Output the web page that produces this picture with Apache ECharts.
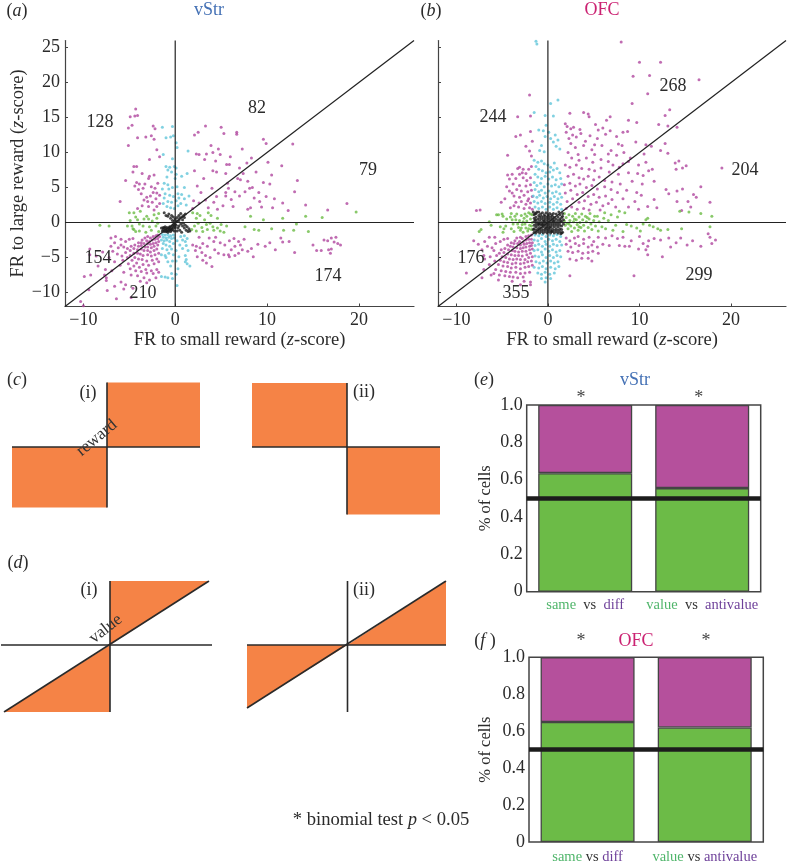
<!DOCTYPE html>
<html>
<head>
<meta charset="utf-8">
<script src="https://cdn.jsdelivr.net/npm/echarts@6/dist/echarts.min.js"></script>
<style>html,body{margin:0;background:#fff}#main{width:787px;height:865px}</style>
</head>
<body>
<div id="main"></div>
<script>
// values (z-scores)
const aMagenta = [[-4.3,16.2],[-4.4,15.2],[-4.1,15.3],[-4.9,15.1],[-4.7,13.9],[-5.1,13.5],[-2.4,13.8],[-2.2,13.4],[-4.1,12.1],[-3.2,12.2],[-2.6,12.4],[-2.3,11.9],[-5.1,11],[-2,10.4],[-1.7,9.4],[-2.8,9],[-4.5,8],[-4.2,8],[-4.6,7.2],[-3.6,7],[-2.3,6.8],[-2.8,6.6],[-5.4,6],[-4.2,5.7],[-3.9,5.5],[-2.9,6.3],[-4,4.7],[-2.6,5.1],[-3.5,4.9],[-2.4,4.3],[-2,4.2],[-1.7,3.9],[-6,3],[-3.4,3.2],[-3,3],[-2.9,2.3],[-2,2.3],[-2.3,1.8],[-1.7,2.7],[-4.1,2],[-3.1,3.6],[-2.7,3.8],[-2.1,3.4],[-3.6,2.4],[-2.5,2.9],[-1.9,5.6],[-2.2,4.9],[-3.3,5.5],[-4.4,5.2],[-3.7,4.1],
[3.3,13.8],[2.5,12.9],[2.1,12.5],[5,13.6],[5.3,12.7],[6.7,12.9],[6.7,12.6],[3.9,11],[9.6,11.9],[9.9,11.3],[12.8,11.2],[4.7,10.5],[7.3,10.5],[2.3,9.8],[2.6,9.7],[3.4,9.8],[4.1,10],[4.9,9.7],[3.2,9],[4.4,8.8],[5.6,8.3],[5.9,8.3],[7.8,8.5],[8.3,9.2],[10.1,8.6],[11.6,8.1],[4.1,7.4],[4.5,7.2],[7,7.8],[7.4,7],[8.8,7.2],[10.5,6.8],[6.8,6.3],[7.1,6.1],[5.7,5.6],[9.6,5.7],[10.3,5.5],[13.3,6],[4,4.9],[5.8,4.9],[8.1,4.9],[8.4,5],[6.5,4.4],[7.6,4.4],[5.5,4.3],[4.5,3.7],[13,4.4],[9.9,3.7],[11.7,2.8],[14.2,2.5],[18.7,2.7],[16.6,1.8],[9.2,3],[7.9,1.9],[8.2,2.1],[6.3,2.3],[2.4,5.2],[2.8,4.3],[3.3,3.2],[2.6,2.8],[3.6,2.1],[4.2,2.9],[5.2,2.4],[6.1,3.3],[7,3.8],[8.6,3.5],[9.4,2.2],[10.8,3.4],[3.1,6.3],[2.1,7.4],[5.5,7],[6,9.4],[2,3.1],[1.9,2],[4.6,1.9],[5.5,3.8],[7.9,5.9],[9.1,4.3],[10.6,2.1],[12.3,1.7],
[-3,-2],[-3.3,-2.2],[-2.7,-2.2],[-2.4,-2],[-2.1,-1.9],[-1.9,-1.8],[-3.6,-2.5],[-3.1,-2.6],[-2.8,-2.7],[-2.5,-2.5],[-2.2,-2.4],[-1.9,-2.3],[-1.7,-2],[-4,-2.9],[-3.7,-2.9],[-3.4,-3],[-3,-3],[-2.7,-3.1],[-2.4,-3],[-2.1,-2.9],[-1.8,-2.7],[-4.4,-3.2],[-4,-3.4],[-3.7,-3.3],[-3.3,-3.5],[-3,-3.5],[-2.6,-3.6],[-2.3,-3.4],[-1.9,-3.2],[-4.8,-3.4],[-4.5,-3.7],[-4.1,-3.9],[-3.7,-3.8],[-3.4,-4],[-3,-4],[-2.7,-4.2],[-2.3,-4],[-2,-3.8],[-5.2,-3.7],[-4.9,-4],[-4.5,-4.4],[-4.1,-4.4],[-3.8,-4.5],[-3.5,-4.7],[-3,-4.6],[-2.6,-4.8],[-2.2,-4.6],[-1.8,-4.4],[-5.6,-3.5],[-5.9,-3.2],[-6.2,-3.6],[-5.4,-4.3],[-4.9,-4.7],[-4.4,-5],[-4,-5.2],[-3.6,-5.3],[-3.1,-5.5],[-2.5,-5.4],[-2,-5.2],[-6.6,-2.9],[-7,-3.4],[-6.8,-4.1],[-6.3,-4.5],[-5.8,-4.8],[-5.2,-5],[-4.7,-5.4],[-4.2,-5.8],[-3.5,-6],[-2.9,-6.1],[-2.3,-5.9],[-1.8,-5.6],[-7,-2.2],[-6.5,-2],[-5.9,-2.4],[-5.4,-2.7],[-5,-2.4],[-4.6,-2.3],[-5.7,-5.4],[-5.1,-5.9],[-4.5,-6.2],[-3.9,-6.4],[-3.2,-6.7],[-2.6,-6.9],[-2,-6.7],[-4.9,-6.6],[-4.3,-6.9],[-3.7,-7],[-3.1,-7.2],[-2.4,-7.3],[-1.8,-7.1],[-6,-6.1],[-6.6,-5.6],[-7.2,-5],[-7.9,-4.2],[-8.6,-4.8],[-9.3,-3.8],[-9.3,-4.6],[-8.4,-6.2],[-7.6,-6.7],[-6.9,-6.9],[-5.6,-7.1],[-4.8,-7.5],[-4.1,-7.6],[-3.4,-7.9],[-2.8,-8.2],[-2.1,-7.9],[-3.8,-8.4],[-3.1,-8.6],[-5.9,-8.5],[-5.4,-8.9],[-7.5,-7.9],[-7.5,-8.3],[-7.7,-7.5],[-9.9,-7.7],[-9.2,-7.5],[-9.4,-9.6],[-7.4,-9.7],[-6.4,-10.9],[-5.6,-9.5],[-4.8,-10.7],[-10.3,-11.3],[-10,-11.9],[-6.6,-9.1],[-4.6,-9.4],
[2.3,-3.4],[2.7,-3.6],[3,-3],[3.5,-3.4],[2.2,-4],[2.9,-4.3],[3.3,-4.7],[3.8,-5],[2.4,-4.9],[1.9,-3.2],[4.3,-3.9],[4.7,-4.4],[4.2,-2.7],[4.9,-2.9],[5.4,-3.2],[5.8,-4.6],[5.3,-4.6],[6.1,-3.9],[6.5,-4.7],[6.9,-4.4],[6.5,-3.4],[7.1,-3.2],[7.3,-3.9],[5.9,-2.6],[6.4,-2.3],[6.9,-2.7],[7.5,-2.4],[3.4,-5.8],[4,-6.3],[3,-5.4],[5.9,-4.9],[8.5,-4.9],[9,-3.1],[9.8,-3.4],[10.3,-2.9],[10.9,-3.9],[11.5,-2.2],[11.7,-2.8],[12.4,-2.7],[13,-4.3],[15,-3.2],[15.4,-4],[15.9,-4],[16.7,-3.9],[17,-3.8],[16.9,-4.4],[16.6,-2.6],[17,-2.2],[17.5,-2.1],[17.7,-3],[18,-3.2],[17.3,-2.8],[16.2,-2.5],[7.9,-4.1],[8.3,-3.7],[4.4,-2.1],[3.7,-2.2],[2.6,-2.1]];
const aCyan = [[-1.4,13.6],[-0.3,13.7],[-1,12.1],[-0.5,12.2],[-0.2,12.4],[0.1,11.4],[0.2,10.7],[1.4,10.2],[-1.3,9.7],[-0.3,9.1],[-1,8],[-0.6,7.9],[-0.1,8],[0.1,7.8],[-0.8,7.5],[-0.4,7.2],[0.1,6.9],[1.3,7],[0.7,6.6],[-0.9,6.5],[0,6.3],[-1.2,5.6],[-0.8,5.4],[-0.3,5],[-0.7,4.8],[0.2,5.1],[1,5],[-1.4,4.8],[-1.1,4.1],[-0.6,3.9],[-0.2,3.7],[0.3,4.1],[0.7,4],[1.5,3.8],[-1.2,3.5],[-0.8,3],[-0.4,2.9],[0.1,3.1],[0.4,3.5],[1,3.4],[-0.9,2.3],[-0.5,2.1],[0.6,2.7],[1.2,2.5],[-1.3,2.7],[-0.1,2],[0.3,2.4],
[-1.4,-1.7],[-1.1,-1.8],[-0.8,-1.7],[-0.5,-1.9],[-0.2,-1.8],[-1.3,-2.1],[-1,-2.2],[-0.7,-2.1],[-0.4,-2.3],[-0.1,-2.2],[0.6,-2],[1,-1.9],[1.3,-2.3],[-1.5,-2.5],[-1.2,-2.6],[-0.9,-2.5],[-0.6,-2.7],[0.2,-2.6],[0.8,-2.5],[1.1,-2.7],[-1.3,-3],[-1,-3.2],[-0.6,-3.4],[-0.2,-3],[0.5,-3.2],[1.2,-3.3],[-1.4,-3.7],[-0.9,-3.9],[-0.4,-3.8],[0.1,-4],[0.8,-3.7],[1.4,-4],[-1.5,-4.6],[-1.1,-4.7],[-0.7,-4.4],[-0.2,-4.6],[-1,-5],[0.4,-4.9],[1.1,-4.7],[1.2,-5.3],[1.3,-5.9],[1.6,-6.2],[1.1,-5.6],[-0.8,-5.6],[-0.3,-5.5],[0.1,-5.5],[-0.5,-6.2],[0.3,-6.6],[-1.5,-7.7],[-1.1,-7.8],[-0.8,-7.9],[-0.3,-8],[0.1,-7.4],[-0.4,-7.3],[0.2,-9]];
const aGreen = [[-8.2,-0.4],[-7.2,-0.5],[-5.2,-0.5],[-4.7,-0.5],[-4.9,0.3],[-4.5,1.4],[-4.3,0.8],[-4.1,0.4],[-3.9,-0.2],[-4.5,-1],[-4.3,-1.3],[-3.9,-1.2],[-3.5,-0.5],[-3.4,0.5],[-3.1,0.9],[-2.9,0.5],[-2.8,-0.6],[-2.6,-1.1],[-2.5,0.2],[-2.3,1.1],[-2.1,-0.5],[-2,0.6],[-1.8,-1.3],[-1.8,1.3],[-3.2,-1.4],[-1.9,-0.1],[-3.8,1.6],[-5,1.4],[-4.6,-0.9],
[1.9,1.4],[2.4,1.3],[2.3,0.6],[2.5,-0.1],[2.7,1],[2.1,-0.5],[1.8,-1],[2.3,-1.2],[2.9,-0.7],[3.2,0.4],[3.4,-0.3],[3,-1.3],[3.5,-1],[3.9,1],[3.8,-0.1],[4.1,-0.6],[4.2,-1.1],[4.6,-0.8],[4.9,-1.2],[5,-0.3],[5.3,-1.4],[5.6,-0.5],[4.6,0.6],[3.6,1.4],[7.6,-0.6],[8.2,0.9],[8.6,-1],[9.1,-1.1],[9.6,0.4],[10.5,-0.9],[11.7,0.6],[11.8,-1.1],[12.9,-1.1],[13.2,-0.2],[14.5,-1.3],[14.2,0.9],[16,0.7],[19.7,1.5]];
const aBlack = [[-1.5,-0.8],[-1.4,-1.2],[-1.3,-0.7],[-1.3,-1],[-1.2,-1.3],[-1.2,-0.8],[-1.1,-1.1],[-1.1,-0.6],[-1,-1.3],[-1,-0.9],[-0.9,-1.2],[-0.9,-0.7],[-0.8,-1],[-0.8,-1.4],[-0.7,-0.8],[-0.7,-1.2],[-0.6,-1],[-0.6,-0.6],[-0.5,-1.3],[-0.5,-0.9],[-0.4,-1.1],[-0.4,-0.7],[-0.3,-0.5],[-0.3,-1],[-0.2,-0.3],[-0.2,-0.8],[-0.1,-0.5],[0,-0.2],[0,-0.7],[0.1,-0.4],[-0.1,0.2],[-0.3,0.3],[-0.5,0.6],[-0.8,0.9],[-1,1],[-1.2,1.4],[-0.7,1.2],[-0.4,1],[-0.2,0.8],[0,0.5],[0.2,0.2],[0.2,0.7],[0.4,1],[0.4,0.3],[0.5,0.6],[0.6,1.3],[0.7,0.8],[0.8,0.4],[0.9,1],[1,0.7],[1.1,1.2],[0.6,-0.2],[0.8,-0.5],[0.9,-0.1],[1,-0.8],[1.1,-0.4],[1.2,-1.1],[1.3,-0.6],[1.4,-1.3],[1.5,-0.9],[1.6,-1.2],[0.3,-0.8],[0.5,-1.1],[0.7,-1.4],[0.2,-1.2],[-0.1,-1.2],[0.4,-0.5]];
const bMagenta = [[8,25.8],[10,22.9],[12.3,22.9],[9.3,20.9],[11.1,21],[16.5,20.4],[10.9,18.4],[-2,18.2],[9.2,17],[13.3,16.1],[12.8,15.3],[-3.3,15.1],[-1.9,15.2],[2.4,15.6],[3.9,15.7],[4.4,15.5],[4.5,15.1],[6.8,15.1],[6.4,14.6],[8.8,14.6],[9.7,14.3],[12.1,14],[13.1,13.8],[14.1,13.6],[1.9,14.1],[2.1,13.7],[2.5,13.4],[2.8,13.6],[5.5,13.2],[-3,12.5],[-3.5,12.3],[-1.9,13],[-1.7,11.6],[-4.4,9.6],[-2.7,7.6],
[2,12.9],[2.7,12.5],[3.1,12.2],[3.6,12.7],[4.6,12.4],[5.4,12],[6.3,12.6],[7.5,12.3],[8.2,12.9],[8.7,13],[9.6,11.5],[10.7,11.1],[11.3,10.9],[12.3,10.3],[13.1,9.9],[12.8,11.3],[2.5,11.3],[3,10.7],[3.9,11],[4.8,10.4],[5.9,11],[6.9,10.3],[7.5,9.6],[8.3,10],[9,9.2],[10.5,9.8],[2.2,10],[2.6,9.2],[3.3,9.7],[4.2,9.2],[5.1,9.7],[5.8,9],[6.6,8.7],[8.2,8.4],[9.9,8.2],[10.7,8.6],[11.4,7.6],[13.9,8.5],[14.3,8.8],[14.7,7.8],[15.1,8.1],[19,7.8],[14,7.6],[1.9,8.2],[2.4,7.9],[3.1,8.2],[3.7,7.7],[4.5,7.6],[5.1,7.4],[5.8,7.8],[6.7,7.2],[7.7,6.9],[8.8,7.1],[9.8,7],[10.4,6.7],[11,7.4],[2.2,6.6],[2.8,6.9],[3.4,6.4],[3.9,6.2],[4.4,6.6],[5,6.1],[5.6,6.5],[6.2,6],[7,5.8],[7.9,5.5],[9.2,5.9],[10.3,5.5],[11.6,5.9],[1.8,5.4],[2.4,5.6],[3,5.2],[3.5,5.5],[4.2,5],[4.8,5.3],[5.4,4.8],[6.2,5.1],[6.9,4.7],[7.6,4.3],[8.6,4.6],[9.7,4.3],[10.2,3.9],[11.6,3.3],[12.9,4.7],[13.2,4.1],[14.1,4.5],[14.7,4.8],[16.7,5.1],[15.9,4],[1.9,4.2],[2.5,4.6],[3.2,4],[3.8,4.3],[4.4,3.7],[5,4],[5.6,3.6],[6.3,3.8],[7,3.3],[8.2,3.4],[9.5,3],[10.9,2.3],[11.9,2.1],[14.1,3],[15.3,3],[16.2,3.6],[17.7,2.9],[15.6,2.2],[14.6,1.7],[2.1,3],[2.7,3.4],[3.4,2.9],[4,3.1],[4.7,2.6],[5.3,2.9],[6,2.4],[6.6,2.7],[7.4,2.2],[8.8,2.2],[9.9,1.9],[2,2],[2.6,2.2],[3.2,1.9],[3.9,2],[4.5,1.8],[5.7,1.8],[2.3,12],[3.5,13.3],[5.2,14],[6,13.5],[6.8,13.1],[7.7,11.2],[8.1,11],[4.1,11.6],[5.1,11.1],[6.6,9.8],[3.4,8.9],[4.9,8.6],[7.1,8.2],[7.8,7.9],[8.8,8.7],
[-2.4,10.9],[-2,10.2],[-1.8,9.5],[-3.3,7.7],[-2.8,7.1],[-3.1,6.9],[-2.4,7],[-2.1,7.6],[-1.8,8],[-4.4,6.8],[-3.9,6.9],[-4.2,6.2],[-3.5,6.3],[-2.7,6.4],[-2.3,6],[-1.9,6.4],[-4.5,5.1],[-3.8,5.5],[-3.1,5.3],[-2.4,5.2],[-1.9,5.4],[-4.2,4.5],[-3.4,4.7],[-2.9,4.5],[-2.2,4.4],[-1.8,4.6],[-3.7,3.8],[-3.1,3.6],[-2.6,3.9],[-2.1,3.4],[-1.7,3.7],[-4.7,3.4],[-3.5,2.9],[-2.9,3],[-2.4,2.6],[-1.9,2.8],[-3.2,2.2],[-2.6,2],[-2,2.1],[-1.7,1.9],[-4.1,2.1],[-5.1,2.9],[-7.8,1.7],[-7.4,1.8],[-3.7,2.4],[-2.2,3.1],[-3.9,4.2],[-3.1,7.9],
[-3,-2.1],[-3.4,-2.2],[-2.8,-2.3],[-2.4,-2],[-2.1,-1.9],[-1.8,-1.8],[-3.6,-2.6],[-3.1,-2.7],[-2.7,-2.8],[-2.4,-2.5],[-2.1,-2.4],[-1.8,-2.4],[-4,-2.9],[-3.7,-3],[-3.3,-3],[-3,-3.2],[-2.6,-3.1],[-2.3,-3],[-2,-2.9],[-1.7,-2.9],[-4.4,-3.2],[-4.1,-3.4],[-3.8,-3.5],[-3.4,-3.6],[-3,-3.7],[-2.7,-3.6],[-2.4,-3.5],[-2,-3.4],[-1.8,-3.3],[-4.7,-3.7],[-4.3,-3.9],[-3.9,-4],[-3.6,-4.1],[-3.2,-4.2],[-2.8,-4.1],[-2.4,-4.1],[-2,-3.9],[-1.7,-3.8],[-5.1,-3.9],[-4.8,-4.3],[-4.4,-4.5],[-4,-4.6],[-3.6,-4.7],[-3.2,-4.7],[-2.8,-4.8],[-2.3,-4.6],[-1.9,-4.4],[-5.3,-4.4],[-5,-4.9],[-4.6,-5],[-4.2,-5.2],[-3.8,-5.3],[-3.4,-5.2],[-3,-5.3],[-2.5,-5.3],[-2.1,-5],[-1.7,-4.9],[-5.6,-4.7],[-5.2,-5.4],[-4.8,-5.6],[-4.4,-5.7],[-3.9,-5.9],[-3.5,-5.8],[-3,-5.9],[-2.6,-5.8],[-2.2,-5.6],[-1.8,-5.5],[-5.7,-3],[-5.2,-2.7],[-4.8,-2.4],[-4.4,-2.3],[-6.1,-3.6],[-5.9,-4],[-6.3,-4.9],[-5.8,-5.5],[-5.4,-6],[-4.9,-6.2],[-4.4,-6.3],[-4,-6.5],[-3.5,-6.4],[-3,-6.6],[-2.5,-6.4],[-2.1,-6.3],[-1.7,-6.1],[-5.1,-6.9],[-4.6,-7],[-4.1,-7.1],[-3.5,-7.1],[-3,-7.3],[-2.5,-7.2],[-2,-7.1],[-5.9,-7.3],[-5.3,-7.5],[-4.7,-7.6],[-4.2,-7.7],[-3.8,-7.8],[-3.3,-7.9],[-2.7,-7.8],[-3.9,-8.4],[-2.6,-8.4],[-1.9,-8.5],[-3,-8.9],[-5.7,-6.7],[-6.4,-6],[-6.9,-5.2],[-7,-4.7],[-7.2,-3.9],[-6.6,-3.4],[-6.9,-2.7],[-6.4,-2.1],[-5.8,-2.1],[-7.6,-3.1],[-8.1,-2.6],[-8.9,-7.2],[-7.2,-7.9],[-7,-6.7],[-6.2,-7.5],[-5.4,-8.2],[-1.9,-8.9],
[2,-2.2],[2.4,-2.6],[2.9,-2.2],[3.3,-2],[3.9,-2.4],[4.5,-2.1],[5,-2.7],[5.5,-2.1],[6.3,-2.2],[7,-1.9],[7.6,-2.3],[8.4,-3.4],[2,-3.1],[2.5,-3.5],[3,-3],[3.4,-3.3],[3.9,-3],[4.4,-3.5],[4.8,-3.2],[5.4,-3.5],[6,-3.1],[6.7,-3.3],[7.8,-3.3],[8.9,-3.4],[2.2,-4.1],[2.7,-4.3],[3.3,-4.1],[3.8,-4.4],[4.4,-4.3],[4.9,-4.1],[5.5,-4.4],[2.4,-5.2],[3.1,-5.4],[3.7,-5.1],[4.4,-5.1],[4.8,-5.5],[2.4,-7.6],[9.4,-7.6],[10.4,-3],[10.9,-3.4],[10.7,-3.9],[10.9,-4.6],[11.6,-2.3],[12.5,-4.9],[13.4,-3.5],[14.5,-2.2],[15.2,-3.2],[15.8,-2.6],[16.7,-3.4],[17.5,-1.6],[17.7,-2.1],[18.3,-2.5],[17.9,-3],[10,-2],[11,-2.6],[12.3,-2.5],[13.2,-2.2],[14,-2.9],[8.2,-2.1],[9.1,-2.6],[9.9,-3.8]];
const bCyan = [[-1.2,25.5],[-1.3,25.9],[1.1,17.5],[0.3,17],[-1.5,15.7],[-0.3,15.3],[0.6,15.2],[-1,13.2],[-0.5,13.1],[-0.2,13.9],[0.1,12.9],[-0.3,12.3],[0.3,12],[0.8,12.5],[1.1,11.8],[0.6,11.5],[-0.7,11],[-0.9,10.3],[-0.4,10.1],[0.9,10.9],[1.3,10.5],[-1.5,8.9],[-1.1,8.6],[-0.7,8.8],[-0.4,8.4],[0,8.2],[0.3,7.9],[0.7,8.5],[-1.3,8],[-1,7.6],[-0.6,7.4],[-0.2,7.1],[0.2,7.2],[0.6,7.5],[1,7.7],[1.3,7.1],[-1.4,6.9],[-1.1,6.5],[-0.7,6.3],[-0.3,6.6],[0.1,6.2],[0.5,6.5],[0.9,6.1],[1.4,6.3],[-1.5,5.7],[-1.2,5.3],[-0.8,5.6],[-0.4,5.1],[0,5.5],[0.4,5.2],[0.8,5.4],[1.2,5.1],[1.5,5.5],[-1.4,4.7],[-1,4.4],[-0.7,4.6],[-0.3,4.2],[0.1,4.5],[0.5,4.2],[0.9,4.4],[1.3,4.1],[-1.6,3.8],[-1.2,3.6],[-0.9,3.9],[-0.5,3.5],[-0.1,3.7],[0.3,3.4],[0.7,3.7],[1.1,3.4],[1.5,3.6],[-1.5,3],[-1.1,2.8],[-0.7,3],[-0.3,2.7],[0.2,2.9],[0.6,2.6],[1,2.9],[1.4,2.6],[-1.4,2.2],[-1,2],[-0.6,2.2],[-0.2,1.9],[0.2,2.2],[0.6,1.9],[1,2.1],[1.5,1.9],
[-1.4,-1.8],[-1,-1.9],[-0.6,-1.7],[-0.2,-2],[0.2,-1.8],[0.6,-1.9],[1,-1.7],[1.4,-2],[-1.5,-2.5],[-1.1,-2.6],[-0.7,-2.3],[-0.3,-2.7],[0.1,-2.4],[0.5,-2.6],[0.9,-2.4],[1.3,-2.7],[-1.4,-3.3],[-1,-3.1],[-0.6,-3.4],[-0.2,-3.1],[0.2,-3.4],[0.6,-3.1],[1,-3.3],[1.5,-3.2],[-1.5,-4],[-1.1,-3.9],[-0.7,-4.2],[-0.3,-3.8],[0.1,-4.1],[0.5,-3.9],[0.9,-4.2],[1.3,-4],[-1.4,-4.8],[-1,-4.9],[-0.6,-4.6],[-0.2,-5],[0.2,-4.7],[0.6,-5],[1,-4.7],[1.4,-4.9],[-1.3,-5.6],[-0.9,-5.8],[-0.5,-5.5],[-0.1,-5.8],[0.3,-5.5],[0.7,-5.8],[1.1,-5.6],[-1.5,-6.4],[-1,-6.5],[-0.6,-6.3],[-0.2,-6.6],[0.3,-6.4],[0.8,-6.6],[1.2,-6.3],[-1.1,-7.2],[-0.7,-7.4],[-0.3,-7.1],[0.2,-7.4],[0.7,-7.2],[-0.7,-8],[-0.2,-7.9],[0.3,-8],[-0.3,-8.5]];
const bGreen = [[-7.5,-1.3],[-7.3,-1],[-6.4,0.1],[-6.2,-0.4],[-5.6,1.1],[-5.4,1.1],[-5,1.2],[-4.9,0.9],[-5.2,-0.6],[-4.8,-0.9],[-4.9,-1.4],[-4.6,-0.5],[-4.5,0.5],[-4.1,0.8],[-4,1.3],[-4,-0.9],[-3.8,-0.2],[-3.7,-1.3],[-3.5,0.4],[-3.4,1.2],[-3.2,-0.7],[-3.1,0.3],[-3,-1.1],[-2.9,1],[-2.8,-0.3],[-2.7,-1.4],[-2.6,0.6],[-2.5,1.2],[-2.4,-0.8],[-2.3,0.2],[-2.2,-1.2],[-2.1,1.4],[-2,-0.4],[-1.9,0.5],[-1.8,-1],[-1.7,1.1],[-1.7,0],[-2.3,0.9],[-2.7,0.1],[-3.3,-0.2],[-3.6,0.9],[-2.1,-0.9],[-1.9,1.2],[-2.5,-0.2],[-1.8,-0.5],[-2.9,-0.8],[-3.9,0.4],
[1.8,1.3],[2,0.7],[2.1,-0.1],[2.2,-0.9],[2.3,1.1],[2.4,0.3],[2.5,-0.5],[2.6,-1.3],[2.7,0.9],[2.8,0.1],[2.9,-0.8],[3,1.3],[3.1,0.4],[3.2,-0.3],[3.3,-1.1],[3.4,0.8],[3.5,0],[3.6,-0.7],[3.7,1.2],[3.8,0.4],[3.9,-0.4],[4,-1.2],[4.1,0.9],[4.2,0.1],[4.4,-0.7],[4.5,0.5],[4.6,1.3],[4.7,-0.2],[4.8,-1],[5,0.3],[5.2,-0.5],[5.4,0.9],[5.5,-1.2],[5.6,0.1],[5.9,-0.6],[6.1,0.6],[6.2,1.4],[6.3,-0.9],[6.6,0.3],[6.9,1.1],[7.1,-1.1],[7.4,-0.4],[7.6,0.8],[7.8,1.6],[8.4,1.4],[8.6,-0.3],[8.2,-1.3],[9.1,-0.5],[9.7,-0.8],[10.1,-1.2],[10.7,0.4],[10.9,0.6],[10.4,-0.2],[11.1,-0.4],[11.5,-0.6],[12,-0.9],[12.3,-1.1],[13.1,-1],[14.4,1.6],[15.4,1.5],[16.7,1.3],[17.9,0.9],[17.7,-0.6],[14.6,-0.9],[1.9,-0.4],[2.3,-0.2],[2.9,0.5],[3.4,-0.6],[4.3,0.7],[5.1,0.9],[1.8,0.2]];
const bBlack = [[-1.5,-1.4],[-1.5,-0.9],[-1.5,-0.4],[-1.5,0.1],[-1.5,0.6],[-1.5,1.1],[-1.6,1.5],[-1.3,-1.5],[-1.3,-1.1],[-1.3,-0.6],[-1.3,-0.2],[-1.3,0.3],[-1.3,0.8],[-1.3,1.3],[-1.1,-1.3],[-1.1,-0.9],[-1.1,-0.4],[-1.1,0],[-1.1,0.5],[-1,1],[-1,1.5],[-0.9,-1.5],[-0.9,-1.1],[-0.9,-0.7],[-0.9,-0.2],[-0.9,0.3],[-0.9,0.7],[-0.8,1.2],[-0.7,-1.3],[-0.7,-0.9],[-0.7,-0.4],[-0.7,0],[-0.7,0.5],[-0.7,0.9],[-0.6,1.4],[-0.5,-1.5],[-0.5,-1.1],[-0.5,-0.6],[-0.5,-0.2],[-0.5,0.3],[-0.5,0.7],[-0.4,1.1],[-0.3,-1.3],[-0.3,-0.9],[-0.3,-0.4],[-0.3,0],[-0.3,0.5],[-0.3,0.9],[-0.2,1.4],[-0.1,-1.5],[-0.1,-1.1],[-0.1,-0.6],[-0.1,-0.2],[-0.1,0.3],[-0.1,0.7],[0,1.1],[0.1,-1.3],[0.1,-0.9],[0.1,-0.4],[0.1,0],[0.1,0.5],[0.1,0.9],[0.2,1.3],[0.3,-1.5],[0.3,-1.1],[0.3,-0.6],[0.3,-0.2],[0.3,0.3],[0.3,0.7],[0.4,1.1],[0.5,-1.3],[0.5,-0.9],[0.5,-0.4],[0.5,0],[0.5,0.5],[0.5,0.9],[0.6,1.3],[0.7,-1.5],[0.7,-1.1],[0.7,-0.6],[0.7,-0.2],[0.7,0.3],[0.7,0.7],[0.9,-1.3],[0.9,-0.9],[0.9,-0.4],[0.9,0],[0.9,0.5],[0.9,1.2],[1.1,-1.5],[1.1,-1.1],[1.1,-0.6],[1.1,-0.2],[1.1,0.3],[1.1,0.8],[1.2,1.5],[1.3,-1.3],[1.3,-0.9],[1.3,-0.4],[1.3,0],[1.3,0.5],[1.3,1.1],[1.5,-1.5],[1.5,-1],[1.5,-0.5],[1.5,0.1],[1.5,0.7],[1.6,1.3],[1.6,-1.4],[1.7,-0.2],[1.7,0.4],[1.6,0.9],[-1.4,1.3],[-1.2,1.5],[-1.6,-1],[-0.4,0.2],[0.2,-0.7],[-0.6,-0.3],[0.6,0.2],[1.4,-1.6],[-1,-0.2],[0.4,-1.3],[-0.2,-0.8],[-1.4,0.4],[1.4,0.3]];

const barCats = ['same vs diff', 'value vs antivalue'];
const eCells = [0.635, 0.555];
const eRest = [0.365, 0.445];
const fCells = [0.65, 0.62];
const fRest = [0.35, 0.38];

const aCounts = ['128','82','79','154','210','174'];
const bCounts = ['244','268','204','176','355','299'];

const cOne = {regions: [[[0,0],[93,0],[93,64.5],[0,64.5]], [[-95,0],[0,0],[0,-60.5],[-95,-60.5]]],
  lines: [[[-95,0],[93,0]], [[0,64.5],[0,-60.5]]], range: [-95,93,-60.5,64.5]};
const cTwo = {regions: [[[-95,0],[0,0],[0,64],[-95,64]], [[0,0],[93,0],[93,-67.5],[0,-67.5]]],
  lines: [[[-95,0],[93,0]], [[0,64],[0,-67.5]]], range: [-95,93,-67.5,64]};
const dOne = {regions: [[[0,0],[0,64],[99,64]], [[0,0],[0,-67],[-106,-67]]],
  lines: [[[-109,0],[102,0]], [[0,64],[0,-67]], [[-106,-67],[99,64]]], range: [-109,102,-67,64]};
const dTwo = {regions: [[[0,0],[98.5,64],[98.5,0]], [[-100.5,0],[0,0],[-100.5,-63]]],
  lines: [[[-100.5,0],[98.5,0]], [[0,64],[0,-67]], [[-100.5,-63],[98.5,64]]], range: [-100.5,98.5,-67,64]};

const SERIF = '"Liberation Serif", "Times New Roman", serif';
const INK = '#2b2b2b';
const ORANGE = '#f58346';
const italic = {fontStyle: 'italic', fontFamily: SERIF, fontSize: 18.5, color: INK};

const grids = [
  {left: 65, top: 40.5, width: 349, height: 266},
  {left: 438, top: 40.5, width: 348, height: 266},
  {left: 12, top: 382.5, width: 188, height: 125},
  {left: 252, top: 383, width: 188, height: 131.5},
  {left: 1, top: 581, width: 211, height: 131},
  {left: 247, top: 581, width: 199, height: 131},
  {left: 526.7, top: 405, width: 234, height: 186.7},
  {left: 529, top: 657.3, width: 234.3, height: 186.7}
];
grids.forEach((g, i) => {
  if (i > 5) { g.show = true; g.borderColor = '#444'; g.borderWidth = 1.5; g.backgroundColor = 'transparent'; }
});

const xAxes = [], yAxes = [], series = [];

function scatterAxes(idx, withLabels, xName, yName) {
  xAxes.push({
    gridIndex: idx, type: 'value', min: -12, max: 26,
    name: xName, nameLocation: 'middle', nameGap: 24,
    nameTextStyle: {fontFamily: SERIF, fontSize: 18.5, color: INK, rich: {i: italic}},
    axisLine: {onZero: false, lineStyle: {color: '#444', width: 1.2}},
    axisTick: {inside: true, length: 3, customValues: [-10,0,10,20], lineStyle: {color: '#444'}},
    axisLabel: {customValues: [-10,0,10,20], margin: 5, fontFamily: SERIF, fontSize: 18, color: INK,
      formatter: v => String(v).replace('-', '\u2212')},
    splitLine: {show: false}
  });
  yAxes.push({
    gridIndex: idx, type: 'value', min: -12, max: 26,
    name: yName, nameLocation: 'middle', nameGap: 37, nameRotate: 90,
    nameTextStyle: {fontFamily: SERIF, fontSize: 18.5, color: INK, rich: {i: italic}},
    axisLine: {onZero: false, lineStyle: {color: '#444', width: 1.2}},
    axisTick: {inside: true, length: 3, customValues: [-10,-5,0,5,10,15,20,25], lineStyle: {color: '#444'}},
    axisLabel: {show: withLabels, customValues: [-10,-5,0,5,10,15,20,25], margin: 5, fontFamily: SERIF, fontSize: 18, color: INK,
      formatter: v => String(v).replace('-', '\u2212')},
    splitLine: {show: false}
  });
}

function dots(idx, data, color) {
  series.push({type: 'scatter', xAxisIndex: idx, yAxisIndex: idx, data, symbolSize: 3,
    itemStyle: {color}, silent: true, animation: false, large: false});
}

function refLine(xIdx, yIdx, data, width, color) {
  series.push({type: 'line', xAxisIndex: xIdx, yAxisIndex: yIdx, data, showSymbol: false, silent: true, animation: false,
    lineStyle: {color, width}, z: 6});
}

scatterAxes(0, true, 'FR to small reward ({i|z}-score)', 'FR to large reward ({i|z}-score)');
scatterAxes(1, false, 'FR to small reward ({i|z}-score)', '');
[[aMagenta, aCyan, aGreen, aBlack], [bMagenta, bCyan, bGreen, bBlack]].forEach((set, idx) => {
  dots(idx, set[0], '#b0479f');
  dots(idx, set[1], '#62c5da');
  dots(idx, set[2], '#6cbb45');
  dots(idx, set[3], '#1c1c1c');
  refLine(idx, idx, [[-12,-12],[26,26]], 1.2, '#222');
  refLine(idx, idx, [[-12,0],[26,0]], 1.2, '#222');
  refLine(idx, idx, [[0,-12],[0,26]], 1.2, '#222');
});

// schematic panels
[cOne, cTwo, dOne, dTwo].forEach((p, i) => {
  const idx = i + 2;
  xAxes.push({gridIndex: idx, type: 'value', min: p.range[0], max: p.range[1], show: false});
  yAxes.push({gridIndex: idx, type: 'value', min: p.range[2], max: p.range[3], show: false});
  series.push({
    type: 'custom', xAxisIndex: idx, yAxisIndex: idx, silent: true, animation: false,
    data: p.regions.map(r => r[0]),
    encode: {x: 0, y: 1},
    renderItem: (params, api) => ({
      type: 'polygon',
      shape: {points: p.regions[params.dataIndex].map(c => api.coord(c))},
      style: {fill: ORANGE}
    })
  });
  p.lines.forEach(l => refLine(idx, idx, l, 1.6, '#2a2a2a'));
});

// bar panels
const labelRich = {
  g: {color: '#4fb56a', fontFamily: SERIF, fontSize: 14.5},
  p: {color: '#6d3f99', fontFamily: SERIF, fontSize: 14.5}
};
function barAxes(gridIdx, gap, labelMargin, nameGap) {
  xAxes.push({
    gridIndex: gridIdx, type: 'category', data: barCats,
    axisLine: {show: false}, axisTick: {show: false},
    axisLabel: {interval: 0, margin: labelMargin, fontFamily: SERIF, fontSize: 14.5, color: '#333', rich: labelRich,
      formatter: v => {
        const w = v.split(' vs ');
        return '{g|' + w[0] + '}' + gap + 'vs' + gap + '{p|' + w[1] + '}';
      }}
  });
  yAxes.push({
    gridIndex: gridIdx, type: 'value', min: 0, max: 1, interval: 0.2,
    name: '% of cells', nameLocation: 'middle', nameGap,
    nameTextStyle: {fontFamily: SERIF, fontSize: 16.5, color: INK},
    axisLine: {show: false},
    axisTick: {inside: true, length: 2, lineStyle: {color: '#444'}},
    axisLabel: {margin: 4, fontFamily: SERIF, fontSize: 18, color: INK, formatter: v => v === 0 ? '0' : v.toFixed(1)},
    splitLine: {show: false}
  });
}
function barSeries(axisIdx, low, high) {
  series.push({type: 'bar', xAxisIndex: axisIdx, yAxisIndex: axisIdx, stack: 's' + axisIdx, data: low, barWidth: 94,
    itemStyle: {color: '#6cbb47', borderColor: '#444', borderWidth: 1.3}, silent: true, animation: false,
    markLine: {silent: true, symbol: 'none', animation: false, label: {show: false},
      lineStyle: {color: '#1c1c1c', width: 4.5, type: 'solid'}, data: [{yAxis: 0.5}]}, z: 3});
  series.push({type: 'bar', xAxisIndex: axisIdx, yAxisIndex: axisIdx, stack: 's' + axisIdx, data: high, barWidth: 94,
    itemStyle: {color: '#b5509c', borderColor: '#444', borderWidth: 1.3}, silent: true, animation: false, z: 2});
}
barAxes(6, '\u2002', 6, 33);
barAxes(7, ' ', 8, 35);
barSeries(6, eCells, eRest);
barSeries(7, fCells, fRest);

// loose text
const ital = {i: {fontStyle: 'italic', fontFamily: SERIF, fontSize: 18, fill: INK}};
function txt(x, y, text, size, fill, rotation) {
  return {type: 'text', x, y, rotation: rotation || 0, z: 20, silent: true,
    style: {text, fontFamily: SERIF, fontSize: size, fill: fill || INK, align: 'center', verticalAlign: 'middle', rich: ital}};
}
const aCountAt = [[100,122.7],[257,108],[368,170],[98,258],[143,293],[328,276]];
const bCountAt = [[493,117],[673,86],[745,170],[471,258],[516,293],[699,275]];
const graphic = [];
aCounts.forEach((t, i) => graphic.push(txt(aCountAt[i][0], aCountAt[i][1], t, 18)));
bCounts.forEach((t, i) => graphic.push(txt(bCountAt[i][0], bCountAt[i][1], t, 18)));
[['({i|a})',17,11],['({i|b})',431,11],['({i|c})',17,380],['({i|d})',18,563],['({i|e})',484,380],['({i|f })',485,641]]
  .forEach(t => graphic.push(txt(t[1], t[2], t[0], 18)));
[['(i)',88,393],['(ii)',364,392],['(i)',89,590],['(ii)',364,590]].forEach(t => graphic.push(txt(t[1], t[2], t[0], 18)));
graphic.push(txt(209, 10, 'vStr', 18, '#4471b5'));
graphic.push(txt(602, 10, 'OFC', 18, '#cb2272'));
graphic.push(txt(635, 380, 'vStr', 18, '#4471b5'));
graphic.push(txt(636, 641, 'OFC', 18, '#cb2272'));
graphic.push(txt(96.7, 438, 'reward', 17, '#333', 40 * Math.PI / 180));
graphic.push(txt(105.7, 629, 'value', 17, '#333', 38 * Math.PI / 180));
[[581,398],[698.7,398],[581,641],[706,641]].forEach(p => graphic.push(txt(p[0], p[1], '*', 18, '#444')));
graphic.push(txt(381, 820, '* binomial test {i|p} < 0.05', 18.6));

const chart = echarts.init(document.getElementById('main'), null, {renderer: 'canvas'});
chart.setOption({animation: false, backgroundColor: '#fff', grid: grids, xAxis: xAxes, yAxis: yAxes, series, graphic});
</script>
</body>
</html>
